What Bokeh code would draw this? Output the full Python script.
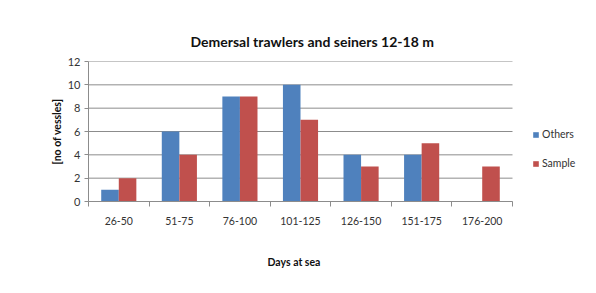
from bokeh.plotting import figure
from bokeh.models import FixedTicker, Legend, LegendItem, ColumnDataSource, Title
from bokeh.embed import file_html
from bokeh.resources import INLINE

categories = ["26-50", "51-75", "76-100", "101-125", "126-150", "151-175", "176-200"]
others = [1, 6, 9, 10, 4, 4, 0]
sample = [2, 4, 9, 7, 3, 5, 3]
y_ticks = [0, 2, 4, 6, 8, 10, 12]

FONT = "Lato"
BLUE = "#4F81BD"
RED = "#C0504D"
GRID = "#8c8c8c"

n = len(categories)
idx = list(range(n))
src = ColumnDataSource(dict(
    x_o=[i + 0.5 - 0.145 for i in idx],
    x_s=[i + 0.5 + 0.145 for i in idx],
    others=others, sample=sample,
))
grid_src = ColumnDataSource(dict(
    x0=[0] * len(y_ticks), x1=[n] * len(y_ticks), y=y_ticks,
))

# frame spans to the figure's right edge; the category area occupies 424 of 508 px
p = figure(width=596, height=293, output_backend="svg", toolbar_location=None,
           x_range=(0, n * 508 / 424), y_range=(0, 12),
           min_border_left=88, min_border_right=0, min_border_top=61, min_border_bottom=92)
p.outline_line_color = None
p.background_fill_color = "white"
p.border_fill_color = "white"

p.title.text = "Demersal trawlers and seiners 12-18 m"
p.title.text_font = FONT
p.title.text_font_size = "14px"
p.title.text_font_style = "bold"
p.title.align = "left"
p.title.offset = 102
p.title.standoff = 24
p.title.text_color = "#111111"

# horizontal gridlines limited to the category area
p.segment(x0="x0", y0="y", x1="x1", y1="y", source=grid_src, line_color=GRID, line_width=1)

r1 = p.vbar(x="x_o", top="others", width=0.29, source=src, fill_color=BLUE, line_color=None)
r2 = p.vbar(x="x_s", top="sample", width=0.29, source=src, fill_color=RED, line_color=None)

# x axis
xa = p.xaxis[0]
xa.bounds = (0, n)
xa.ticker = FixedTicker(ticks=[i + 0.5 for i in idx], minor_ticks=list(range(n + 1)))
xa.major_label_overrides = {i + 0.5: c for i, c in zip(idx, categories)}
xa.major_tick_out = 0
xa.major_tick_in = 0
xa.minor_tick_out = 5
xa.minor_tick_in = 0
xa.minor_tick_line_color = GRID
xa.axis_line_color = GRID
xa.major_label_standoff = 10
xa.major_label_text_font = FONT
xa.major_label_text_font_size = "10.5px"
xa.major_label_text_color = "#333333"

x_title = Title(text="Days at sea", align="left", offset=179, standoff=52,
                text_font=FONT, text_font_size="10.5px", text_font_style="bold",
                text_color="#111111")
p.add_layout(x_title, "below")

# y axis
ya = p.yaxis[0]
ya.ticker = FixedTicker(ticks=y_ticks)
ya.major_tick_out = 4
ya.major_tick_in = 0
ya.minor_tick_line_color = None
ya.major_tick_line_color = GRID
ya.axis_line_color = GRID
ya.major_label_standoff = 4
ya.major_label_text_font = FONT
ya.major_label_text_font_size = "11px"
ya.major_label_text_color = "#333333"
ya.axis_label = "[no of vessles]"
ya.axis_label_text_font = FONT
ya.axis_label_text_font_size = "10.5px"
ya.axis_label_text_font_style = "bold"
ya.axis_label_standoff = 2
ya.axis_label_text_color = "#111111"

p.xgrid.grid_line_color = None
p.ygrid.grid_line_color = None

legend = Legend(items=[LegendItem(label="Others", renderers=[r1]),
                       LegendItem(label="Sample", renderers=[r2])],
                location=(444, 32), orientation="vertical",
                glyph_width=7, glyph_height=7, label_height=12, spacing=17,
                padding=0, margin=0, label_standoff=3,
                border_line_color=None, background_fill_alpha=0,
                label_text_font=FONT, label_text_font_size="10.5px",
                label_text_color="#333333")
p.add_layout(legend, "center")

open("out.html", "w").write(file_html(p, INLINE))
